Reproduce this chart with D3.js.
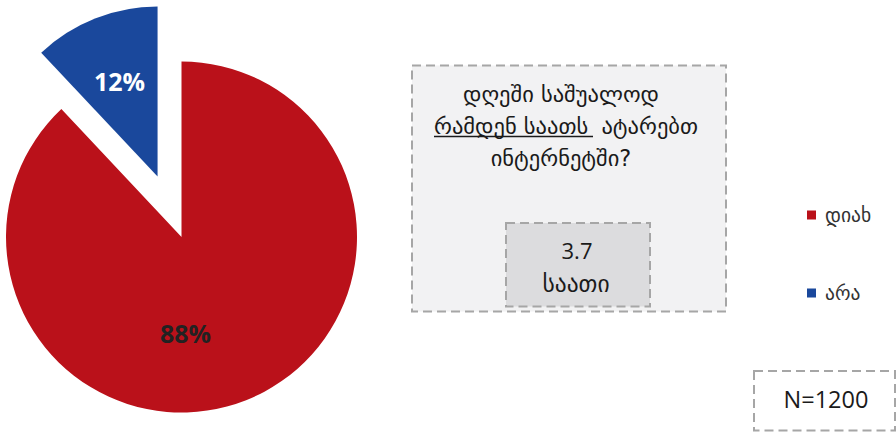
<!DOCTYPE html>
<html><head><meta charset="utf-8">
<script src="https://cdn.jsdelivr.net/npm/d3@7"></script>
<style>body{margin:0;background:#fff}svg{display:block}</style>
</head><body>
<svg id="c" width="896" height="433"></svg>
<script>
const categories = ["დიახ", "არა"];
const values = [88, 12];
const labels = ["88%", "12%"];
const colors = ["#BA111A", "#1A489C"];
const questionLines = ["დღეში საშუალოდ", "რამდენ საათს", "ატარებთ", "ინტერნეტში?"];
const avgValue = "3.7";
const avgUnit = "საათი";
const sampleText = "N=1200";

const svg = d3.select("#c");
const cx = 181.5, cy = 237, R = 175.5;
const pie = d3.pie().sort(null).value(d => d)(values);
const g = svg.append("g").attr("transform", `translate(${cx},${cy})`);
pie.forEach((p, i) => {
  const mid = (p.startAngle + p.endAngle) / 2;
  const off = i === 1 ? 65 : 0;
  const r = i === 1 ? 170 : R;
  const dx = Math.sin(mid) * off, dy = -Math.cos(mid) * off;
  const arc = d3.arc().innerRadius(0).outerRadius(r);
  const sg = g.append("g").attr("transform", `translate(${dx},${dy})`);
  sg.append("path").attr("d", arc(p)).attr("fill", colors[i]);
});
const nf = "Open Sans, sans-serif";
g.append("text").attr("x", 4).attr("y", 106).attr("text-anchor", "middle")
  .attr("font-family", nf).attr("font-weight", "bold")
  .attr("font-size", 25).attr("fill", "#222").text(labels[0]);
g.append("text").attr("x", -62).attr("y", -146).attr("text-anchor", "middle")
  .attr("font-family", nf).attr("font-weight", "bold")
  .attr("font-size", 25).attr("fill", "#fff").text(labels[1]);

// question box
svg.append("rect").attr("x", 412).attr("y", 65.5).attr("width", 314).attr("height", 246)
  .attr("fill", "#F2F2F3").attr("stroke", "#A6A6A6").attr("stroke-width", 2)
  .attr("stroke-dasharray", "9,5");
const gf = "DejaVu Sans, sans-serif";
const qs = 22.5;
svg.append("text").attr("x", 561).attr("y", 102).attr("text-anchor", "middle")
  .attr("font-family", gf).attr("font-size", qs).attr("fill", "#1a1a1a").text(questionLines[0]);
svg.append("text").attr("x", 434).attr("y", 134).attr("text-anchor", "start")
  .attr("font-family", gf).attr("font-size", qs).attr("fill", "#1a1a1a").text(questionLines[1]);
svg.append("line").attr("x1", 434).attr("x2", 593).attr("y1", 136.5).attr("y2", 136.5)
  .attr("stroke", "#1a1a1a").attr("stroke-width", 1.6);
svg.append("text").attr("x", 698).attr("y", 134).attr("text-anchor", "end")
  .attr("font-family", gf).attr("font-size", qs).attr("fill", "#1a1a1a").text(questionLines[2]);
svg.append("text").attr("x", 561).attr("y", 166).attr("text-anchor", "middle")
  .attr("font-family", gf).attr("font-size", qs).attr("fill", "#1a1a1a").text(questionLines[3]);

svg.append("rect").attr("x", 506).attr("y", 223).attr("width", 144).attr("height", 83.5)
  .attr("fill", "#DCDCDE").attr("stroke", "#A6A6A6").attr("stroke-width", 2)
  .attr("stroke-dasharray", "9,5");
svg.append("text").attr("x", 577).attr("y", 259).attr("text-anchor", "middle")
  .attr("font-family", nf).attr("font-size", 22).attr("fill", "#1a1a1a").text(avgValue);
svg.append("text").attr("x", 576).attr("y", 292).attr("text-anchor", "middle")
  .attr("font-family", gf).attr("font-size", 23.5).attr("fill", "#1a1a1a").text(avgUnit);

// legend
const ly = [215, 293];
categories.forEach((c, i) => {
  svg.append("rect").attr("x", 807).attr("y", ly[i] - 4.5).attr("width", 9).attr("height", 9).attr("fill", colors[i]);
  svg.append("text").attr("x", 825).attr("y", ly[i] + 7).attr("font-family", gf)
    .attr("font-size", 19.5).attr("fill", "#333").text(c);
});

// N box
svg.append("rect").attr("x", 754).attr("y", 371).attr("width", 141).attr("height", 59.5)
  .attr("fill", "#fff").attr("stroke", "#A6A6A6").attr("stroke-width", 2)
  .attr("stroke-dasharray", "9,5");
svg.append("text").attr("x", 826).attr("y", 408).attr("text-anchor", "middle")
  .attr("font-family", nf).attr("font-size", 23.5).attr("fill", "#1a1a1a").text(sampleText);
</script>
</body></html>
